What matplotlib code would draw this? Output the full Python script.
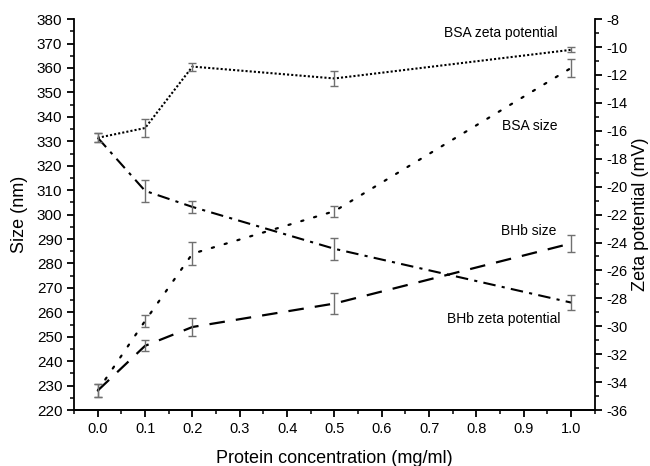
import matplotlib
matplotlib.use('Agg')
import matplotlib.pyplot as plt
from matplotlib.ticker import MultipleLocator

plt.rcParams['font.family'] = ['Liberation Sans', 'DejaVu Sans']
plt.rcParams['font.size'] = 10
plt.rcParams['axes.unicode_minus'] = False

# Protein concentration (mg/ml)
conc = [0.0, 0.1, 0.2, 0.5, 1.0]

# Size (nm), left axis
bsa_size = [228.0, 256.5, 284.0, 301.4, 360.0]
bsa_size_err = [2.7, 2.3, 4.8, 2.2, 3.5]
bhb_size = [228.0, 246.3, 254.0, 263.6, 288.2]
bhb_size_err = [2.7, 2.3, 3.5, 4.2, 3.4]

# Zeta potential (mV), right axis
bsa_zeta = [-16.5, -15.8, -11.4, -12.25, -10.2]
bsa_zeta_err = [0.33, 0.62, 0.29, 0.54, 0.18]
bhb_zeta = [-16.5, -20.3, -21.45, -24.45, -28.3]
bhb_zeta_err = [0.33, 0.79, 0.41, 0.78, 0.56]

err_color = '#707070'

fig = plt.figure(figsize=(6.5, 4.66), dpi=100)
ax = fig.add_axes([0.114, 0.120, 0.801, 0.839])
ax2 = ax.twinx()

# size curves
ax.plot(conc, bsa_size, color='black', lw=1.6, linestyle=(0, (1, 5)), dash_capstyle='round')
ax.errorbar(conc, bsa_size, yerr=bsa_size_err, fmt='none', ecolor=err_color,
            elinewidth=1, capsize=3, capthick=1)
ax.plot(conc, bhb_size, color='black', lw=1.6, linestyle=(0, (7, 5)))
ax.errorbar(conc, bhb_size, yerr=bhb_size_err, fmt='none', ecolor=err_color,
            elinewidth=1, capsize=3, capthick=1)

# zeta curves
ax2.plot(conc, bsa_zeta, color='black', lw=1.5, linestyle=(0, (1, 1)))
ax2.errorbar(conc, bsa_zeta, yerr=bsa_zeta_err, fmt='none', ecolor=err_color,
             elinewidth=1, capsize=3, capthick=1)
ax2.plot(conc, bhb_zeta, color='black', lw=1.5, linestyle=(0, (6, 3, 1.5, 3)))
ax2.errorbar(conc, bhb_zeta, yerr=bhb_zeta_err, fmt='none', ecolor=err_color,
             elinewidth=1, capsize=3, capthick=1)

ax.set_xlim(-0.05, 1.05)
ax.set_ylim(220, 380)
ax2.set_ylim(-36, -8)

ax.xaxis.set_major_locator(MultipleLocator(0.1))
ax.xaxis.set_minor_locator(MultipleLocator(0.05))
ax.yaxis.set_major_locator(MultipleLocator(10))
ax.yaxis.set_minor_locator(MultipleLocator(5))
ax2.yaxis.set_major_locator(MultipleLocator(2))
ax2.yaxis.set_minor_locator(MultipleLocator(1))
ax.set_xticks([0.0, 0.1, 0.2, 0.3, 0.4, 0.5, 0.6, 0.7, 0.8, 0.9, 1.0])
ax.set_xticklabels(['0.0', '0.1', '0.2', '0.3', '0.4', '0.5', '0.6', '0.7', '0.8', '0.9', '1.0'])

for a in (ax, ax2):
    a.spines['top'].set_visible(False)
    for s in a.spines.values():
        s.set_linewidth(1.3)
    a.tick_params(which='major', direction='out', length=5, width=1.3)
    a.tick_params(which='minor', direction='out', length=3, width=1.1)
ax.spines['right'].set_visible(False)
ax2.spines['left'].set_visible(False)
ax.tick_params(axis='x', labelsize=10.5)
ax.tick_params(axis='y', labelsize=11)
ax2.tick_params(axis='y', labelsize=10.5)

ax.set_xlabel('Protein concentration (mg/ml)', fontsize=13, labelpad=10)
ax.set_ylabel('Size (nm)', fontsize=13, labelpad=6)
ax2.set_ylabel('Zeta potential (mV)', fontsize=13, labelpad=3)

ax.text(0.972, 374.3, 'BSA zeta potential', ha='right', va='center', fontsize=10)
ax.text(0.972, 336.2, 'BSA size', ha='right', va='center', fontsize=10)
ax.text(0.968, 293.4, 'BHb size', ha='right', va='center', fontsize=10)
ax.text(0.978, 257.2, 'BHb zeta potential', ha='right', va='center', fontsize=10)

fig.savefig('out.png', dpi=100)
